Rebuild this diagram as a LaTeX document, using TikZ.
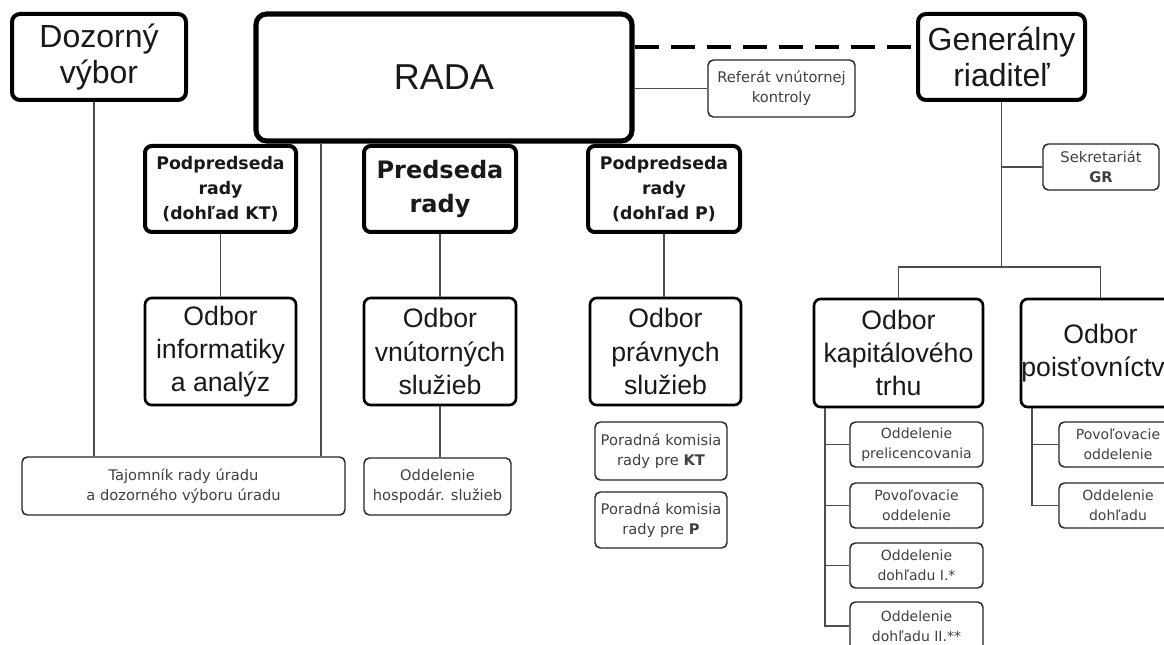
\documentclass[tikz,border=0pt]{standalone}
\usepackage{fontspec}
\setmainfont{Liberation Sans}
\newfontfamily\dv{DejaVu Sans}
\begin{document}
\begin{tikzpicture}[x=0.75pt,y=-0.75pt,
  box/.style={draw=black, inner sep=0pt, align=center, anchor=center, text=black!90},
  huge/.style={box, line width=3pt, rounded corners=6pt, font=\fontsize{24}{27}\selectfont},
  radabox/.style={box, line width=3.8pt, rounded corners=8pt, font=\fontsize{27}{30}\selectfont},
  vice/.style={box, line width=3pt, rounded corners=5pt, font=\dv\bfseries\fontsize{13}{19}\selectfont},
  chair/.style={box, line width=3pt, rounded corners=5pt, font=\dv\bfseries\fontsize{18}{26}\selectfont},
  dept/.style={box, line width=2pt, rounded corners=5pt, font=\fontsize{20}{25}\selectfont},
  small/.style={box, draw=black!85, line width=1.1pt, rounded corners=4pt, text=black!75, font=\dv\fontsize{11}{15}\selectfont},
  sub/.style={small, font=\dv\fontsize{10.5}{15}\selectfont},
  conn/.style={draw=black!70, line width=0.9pt},
  dashline/.style={draw=black, line width=3pt, dash pattern=on 18pt off 9pt}
]
\path[use as bounding box] (0,0) rectangle (1164,645);
\fill[white] (0,0) rectangle (1164,645);
\clip (0,0) rectangle (1164,645);

% top row
\node[huge, minimum width=130.5pt, minimum height=64.5pt] (dozor) at (99,57) {Dozorný\\výbor};
\node[radabox, minimum width=282pt, minimum height=95.25pt] (rada) at (444,77.5) {RADA};
\node[huge, minimum width=125.25pt, minimum height=64.5pt] (gen) at (1001.5,57) {Generálny\\riaditeľ};
\node[small, minimum width=110.25pt, minimum height=42.75pt] (ref) at (781.5,88.5) {Referát vnútornej\\kontroly};
\node[small, minimum width=87pt, minimum height=34.5pt] (sek) at (1101,167) {Sekretariát\\\textbf{GR}};

% second row
\node[vice, minimum width=113.25pt, minimum height=64.5pt] (pkt) at (220.5,189) {Podpredseda\\rady\\(dohľad KT)};
\node[chair, minimum width=114pt, minimum height=64.5pt] (pred) at (440,189) {Predseda\\rady};
\node[vice, minimum width=114pt, minimum height=64.5pt] (pp) at (664,189) {Podpredseda\\rady\\(dohľad P)};

% departments
\node[dept, minimum width=113.25pt, minimum height=80.25pt] (oinf) at (220.5,351.5) {Odbor\\informatiky\\a analýz};
\node[dept, minimum width=114pt, minimum height=80.25pt] (ovn) at (440,351.5) {Odbor\\vnútorných\\služieb};
\node[dept, minimum width=113.25pt, minimum height=80.25pt] (opr) at (665.5,351.5) {Odbor\\právnych\\služieb};
\node[dept, minimum width=126.75pt, minimum height=81pt] (okt) at (898.5,353) {Odbor\\kapitálového\\trhu};
\node[dept, minimum width=119.25pt, minimum height=81pt] (opo) at (1100.5,353) {Odbor\\poisťovníctva};

% small boxes
\node[small, minimum width=242.25pt, minimum height=43.5pt] (taj) at (183.5,486) {Tajomník rady úradu\\a dozorného výboru úradu};
\node[small, minimum width=110.25pt, minimum height=42.75pt] (hosp) at (437.5,486.5) {Oddelenie\\hospodár. služieb};
\node[small, minimum width=99pt, minimum height=43.5pt] (pkKT) at (661,451) {Poradná komisia\\rady pre \textbf{KT}};
\node[small, minimum width=99pt, minimum height=42pt] (pkP) at (661,520) {Poradná komisia\\rady pre \textbf{P}};

\node[sub, minimum width=99.75pt, minimum height=33.75pt] (s1) at (916.5,444.5) {Oddelenie\\prelicencovania};
\node[sub, minimum width=99.75pt, minimum height=33.75pt] (s2) at (916.5,505.5) {Povoľovacie\\oddelenie};
\node[sub, minimum width=99.75pt, minimum height=33.75pt] (s3) at (916.5,565.5) {Oddelenie\\dohľadu I.*};
\node[sub, minimum width=99.75pt, minimum height=36pt] (s4) at (916.5,626) {Oddelenie\\dohľadu II.**};
\node[sub, minimum width=88.5pt, minimum height=33.75pt] (p1) at (1118,444.5) {Povoľovacie\\oddelenie};
\node[sub, minimum width=88.5pt, minimum height=33.75pt] (p2) at (1118,505.5) {Oddelenie\\dohľadu};

% helper coordinates
\coordinate (dashy) at (0,47);
\coordinate (dx) at (94,0);
\coordinate (rx) at (321,0);
\coordinate (bar) at (0,267);
\coordinate (ktx) at (825,0);
\coordinate (pox) at (1032,0);

% connectors
\draw[dashline] (rada.east |- dashy) -- (gen.west |- dashy);
\draw[conn] (ref.west) -- (ref.west -| rada.east);
\draw[conn] (dozor.south -| dx) -- (taj.north -| dx);
\draw[conn] (rada.south -| rx) -- (taj.north -| rx);
\draw[conn] (pkt.south) -- (oinf.north);
\draw[conn] (pred.south) -- (ovn.north);
\draw[conn] (ovn.south) -- (hosp.north -| ovn.south);
\draw[conn] (pp.south) -- (opr.north -| pp.south);
\draw[conn] (gen.south) -- (gen.south |- bar);
\draw[conn] (gen.south |- sek.west) -- (sek.west);
\draw[conn] (okt.north) |- (gen.south |- bar) -| (opo.north);
\draw[conn] (okt.south -| ktx) |- (s4.west);
\draw[conn] (okt.south -| ktx) |- (s1.west);
\draw[conn] (okt.south -| ktx) |- (s2.west);
\draw[conn] (okt.south -| ktx) |- (s3.west);
\draw[conn] (opo.south -| pox) |- (p2.west);
\draw[conn] (opo.south -| pox) |- (p1.west);
\end{tikzpicture}
\end{document}
